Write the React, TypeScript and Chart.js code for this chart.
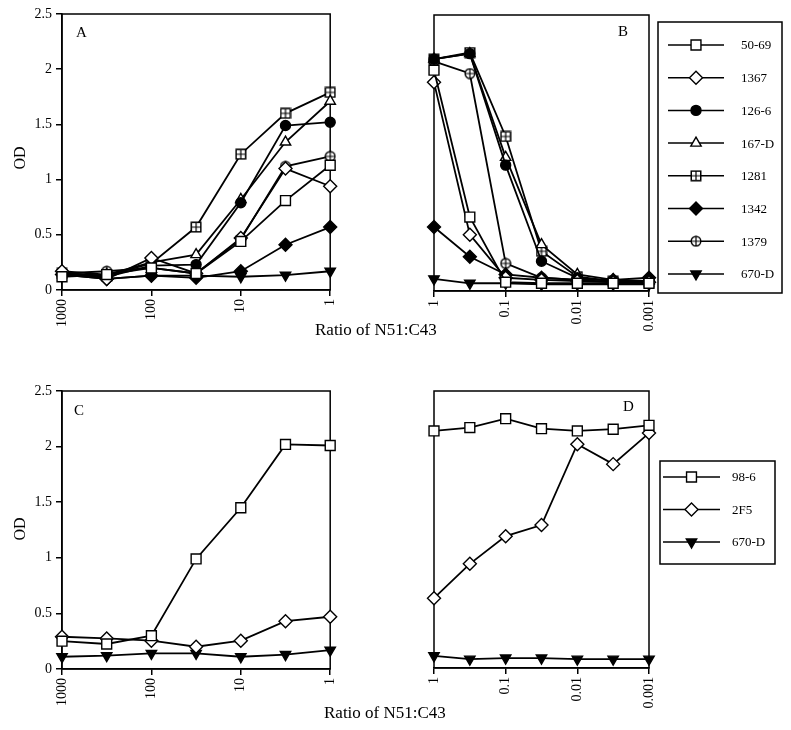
import React, { useEffect, useRef } from 'react';
import { Chart, registerables } from 'chart.js';
import { drawPoint } from 'chart.js/helpers';

Chart.register(...registerables);

const SERIF = "'Liberation Serif', 'Times New Roman', serif";

// ---------- DATA ----------
const ticksAC = ['1000', '100', '10', '1'];
const ticksBD = ['1', '0.1', '0.01', '0.001'];

const namesAB = ['50-69', '1367', '126-6', '167-D', '1281', '1342', '1379', '670-D'];
const namesCD = ['98-6', '2F5', '670-D'];

// Panel A (ratio 1000 -> 1, 7 dilutions)
const a5069 = [0.12, 0.14, 0.2, 0.15, 0.44, 0.81, 1.13];
const a1367 = [0.17, 0.1, 0.29, 0.15, 0.47, 1.1, 0.94];
const a1266 = [0.15, 0.12, 0.22, 0.23, 0.79, 1.49, 1.52];
const a167D = [0.17, 0.14, 0.25, 0.32, 0.82, 1.34, 1.71];
const a1281 = [0.15, 0.13, 0.24, 0.57, 1.23, 1.6, 1.79];
const a1342 = [0.14, 0.1, 0.13, 0.11, 0.17, 0.41, 0.57];
const a1379 = [0.15, 0.17, 0.2, 0.15, 0.46, 1.12, 1.21];
const a670D = [0.14, 0.1, 0.13, 0.13, 0.12, 0.135, 0.17];

// Panel B (ratio 1 -> 0.001)
const b5069 = [2.0, 0.67, 0.08, 0.07, 0.07, 0.07, 0.07];
const b1367 = [1.89, 0.51, 0.12, 0.1, 0.09, 0.08, 0.08];
const b1266 = [2.1, 2.15, 1.14, 0.27, 0.12, 0.09, 0.09];
const b167D = [2.1, 2.15, 1.21, 0.42, 0.15, 0.1, 0.09];
const b1281 = [2.1, 2.16, 1.4, 0.36, 0.13, 0.09, 0.08];
const b1342 = [0.58, 0.31, 0.15, 0.12, 0.1, 0.1, 0.12];
const b1379 = [2.08, 1.97, 0.25, 0.12, 0.1, 0.08, 0.08];
const b670D = [0.11, 0.07, 0.07, 0.06, 0.06, 0.06, 0.06];

// Panel C
const c986 = [0.25, 0.225, 0.3, 0.99, 1.45, 2.02, 2.01];
const c2F5 = [0.29, 0.275, 0.255, 0.2, 0.255, 0.43, 0.47];
const c670D = [0.11, 0.12, 0.14, 0.14, 0.11, 0.13, 0.17];

// Panel D
const d986 = [2.14, 2.17, 2.25, 2.16, 2.14, 2.155, 2.19];
const d2F5 = [0.63, 0.94, 1.19, 1.29, 2.02, 1.84, 2.12];
const d670D = [0.11, 0.08, 0.09, 0.09, 0.08, 0.08, 0.08];

// ---------- MARKER STYLES ----------
function makeBoxPlus(): HTMLCanvasElement {
  const c = document.createElement('canvas');
  c.width = 12; c.height = 12;
  const g = c.getContext('2d')!;
  g.fillStyle = '#fff'; g.fillRect(1, 1, 10, 10);
  g.strokeStyle = '#000'; g.lineWidth = 1.5;
  g.strokeRect(1.25, 1.25, 9.5, 9.5);
  g.lineWidth = 1.2;
  g.beginPath();
  g.moveTo(6, 1.5); g.lineTo(6, 10.5);
  g.moveTo(1.5, 6); g.lineTo(10.5, 6);
  g.stroke();
  return c;
}
function makeCrossCircle(): HTMLCanvasElement {
  const c = document.createElement('canvas');
  c.width = 12; c.height = 12;
  const g = c.getContext('2d')!;
  g.beginPath(); g.arc(6, 6, 4.8, 0, Math.PI * 2);
  g.fillStyle = '#fff'; g.fill();
  g.strokeStyle = '#000'; g.lineWidth = 1.4; g.stroke();
  g.lineWidth = 1.2;
  g.beginPath();
  g.moveTo(6, 1.2); g.lineTo(6, 10.8);
  g.moveTo(1.2, 6); g.lineTo(10.8, 6);
  g.stroke();
  return c;
}
const boxPlus = makeBoxPlus();
const crossCircle = makeCrossCircle();

type Sty = { pointStyle: any; fill: string; radius: number; rotation?: number };
const styles: Record<string, Sty> = {
  '50-69': { pointStyle: 'rect', fill: '#fff', radius: 7 },
  '1367': { pointStyle: 'rectRot', fill: '#fff', radius: 6.5 },
  '126-6': { pointStyle: 'circle', fill: '#000', radius: 5 },
  '167-D': { pointStyle: 'triangle', fill: '#fff', radius: 6 },
  '1281': { pointStyle: boxPlus, fill: '#fff', radius: 6 },
  '1342': { pointStyle: 'rectRot', fill: '#000', radius: 6.5 },
  '1379': { pointStyle: crossCircle, fill: '#fff', radius: 6 },
  '670-D': { pointStyle: 'triangle', fill: '#000', radius: 6, rotation: 180 },
  '98-6': { pointStyle: 'rect', fill: '#fff', radius: 7 },
  '2F5': { pointStyle: 'rectRot', fill: '#fff', radius: 6.5 },
};

// ---------- PANELS ----------
type LegendSpec = { x1: number; y1: number; x2: number; y2: number; rowY0: number; rowStep: number; lineX1: number; lineX2: number; textX: number };
type PanelSpec = {
  left: number; top: number; w: number; h: number;
  padding: { left: number; right: number; top: number; bottom: number };
  xAxisH: number; showY: boolean;
  tickLabels: string[];
  names: string[]; values: number[][];
  legend?: LegendSpec;
};

const panels: PanelSpec[] = [
  {
    left: 0, top: 0, w: 350, h: 340,
    padding: { left: 0, right: 10, top: 14, bottom: 0 }, xAxisH: 50, showY: true,
    tickLabels: ticksAC, names: namesAB,
    values: [a5069, a1367, a1266, a167D, a1281, a1342, a1379, a670D],
  },
  {
    left: 350, top: 0, w: 441, h: 340,
    padding: { left: 22, right: 142, top: 15, bottom: 0 }, xAxisH: 49, showY: false,
    tickLabels: ticksBD, names: namesAB,
    values: [b5069, b1367, b1266, b167D, b1281, b1342, b1379, b670D],
    legend: { x1: 658, y1: 22, x2: 782, y2: 293, rowY0: 45, rowStep: 32.7, lineX1: 668, lineX2: 724, textX: 741 },
  },
  {
    left: 0, top: 340, w: 350, h: 390,
    padding: { left: 0, right: 10, top: 51, bottom: 0 }, xAxisH: 61, showY: true,
    tickLabels: ticksAC, names: namesCD,
    values: [c986, c2F5, c670D],
  },
  {
    left: 350, top: 340, w: 441, h: 390,
    padding: { left: 22, right: 142, top: 51, bottom: 0 }, xAxisH: 62, showY: false,
    tickLabels: ticksBD, names: namesCD,
    values: [d986, d2F5, d670D],
    legend: { x1: 660, y1: 461, x2: 775, y2: 564, rowY0: 477, rowStep: 32.5, lineX1: 663, lineX2: 720, textX: 732 },
  },
];

function buildConfig(p: PanelSpec): any {
  const framePlugin = {
    id: 'frame',
    beforeDatasetsDraw(chart: any) {
      const { ctx, chartArea } = chart;
      ctx.save();
      ctx.strokeStyle = '#000';
      ctx.lineWidth = 1.5;
      ctx.strokeRect(chartArea.left, chartArea.top, chartArea.right - chartArea.left, chartArea.bottom - chartArea.top);
      ctx.restore();
    },
  };
  const legendPlugin = {
    id: 'customLegend',
    afterDraw(chart: any) {
      const L = p.legend;
      if (!L) return;
      const ctx = chart.ctx;
      const ox = p.left, oy = p.top;
      ctx.save();
      ctx.strokeStyle = '#000';
      ctx.lineWidth = 1.5;
      ctx.strokeRect(L.x1 - ox, L.y1 - oy, L.x2 - L.x1, L.y2 - L.y1);
      ctx.font = `13px ${SERIF}`;
      ctx.textBaseline = 'middle';
      ctx.textAlign = 'left';
      p.names.forEach((name, i) => {
        const y = L.rowY0 + i * L.rowStep - oy;
        const st = styles[name];
        ctx.strokeStyle = '#000';
        ctx.lineWidth = 1.5;
        ctx.beginPath();
        ctx.moveTo(L.lineX1 - ox, y);
        ctx.lineTo(L.lineX2 - ox, y);
        ctx.stroke();
        ctx.fillStyle = st.fill;
        ctx.strokeStyle = '#000';
        ctx.lineWidth = 1.4;
        drawPoint(ctx, { pointStyle: st.pointStyle, radius: st.radius, rotation: st.rotation || 0, borderWidth: 1.4 } as any, (L.lineX1 + L.lineX2) / 2 - ox, y);
        ctx.fillStyle = '#000';
        ctx.fillText(name, L.textX - ox, y + 1);
      });
      ctx.restore();
    },
  };

  return {
    type: 'line',
    data: {
      datasets: p.names.map((name, k) => {
        const st = styles[name];
        return {
          label: name,
          data: p.values[k].map((y, i) => ({ x: i, y })),
          borderColor: '#000',
          borderWidth: 1.8,
          pointStyle: st.pointStyle,
          pointRadius: st.radius,
          pointRotation: st.rotation || 0,
          pointBackgroundColor: st.fill,
          pointBorderColor: '#000',
          pointBorderWidth: 1.4,
          clip: false,
          tension: 0,
          fill: false,
        };
      }),
    },
    options: {
      animation: false,
      responsive: false,
      maintainAspectRatio: false,
      layout: { padding: p.padding },
      events: [],
      plugins: { legend: { display: false }, tooltip: { enabled: false }, title: { display: false } },
      scales: {
        x: {
          type: 'linear',
          min: 0,
          max: 6,
          afterBuildTicks: (s: any) => { s.ticks = [0, 2, 4, 6].map((v) => ({ value: v })); },
          afterFit: (s: any) => { s.height = p.xAxisH; },
          ticks: {
            callback: (v: any) => p.tickLabels[Math.round(v / 2)],
            minRotation: 90,
            maxRotation: 90,
            autoSkip: false,
            color: '#000',
            font: { family: SERIF, size: 14 },
            padding: 3,
          },
          grid: { display: true, drawOnChartArea: false, drawTicks: true, tickLength: 6, color: '#000', lineWidth: 1.5 },
          border: { display: true, color: '#000', width: 1.5 },
        },
        y: {
          type: 'linear',
          min: 0,
          max: 2.5,
          display: p.showY,
          afterFit: (s: any) => { s.width = 62; },
          ticks: {
            stepSize: 0.5,
            callback: (v: any) => String(Math.round(v * 10) / 10),
            color: '#000',
            font: { family: SERIF, size: 14 },
            padding: 4,
          },
          grid: { display: true, drawOnChartArea: false, drawTicks: true, tickLength: 6, color: '#000', lineWidth: 1.5 },
          border: { display: true, color: '#000', width: 1.5 },
        },
      },
    },
    plugins: [framePlugin, legendPlugin],
  };
}

function Panel({ spec }: { spec: PanelSpec }) {
  const ref = useRef<HTMLCanvasElement>(null);
  useEffect(() => {
    const chart = new Chart(ref.current!, buildConfig(spec));
    return () => chart.destroy();
  }, []);
  return (
    <canvas
      ref={ref}
      width={spec.w}
      height={spec.h}
      style={{ position: 'absolute', left: spec.left, top: spec.top, width: spec.w, height: spec.h }}
    />
  );
}

const textBase: React.CSSProperties = {
  position: 'absolute',
  fontFamily: SERIF,
  color: '#000',
  lineHeight: 1,
  whiteSpace: 'nowrap',
};

export default function App() {
  return (
    <div style={{ position: 'absolute', left: 0, top: 0, width: 791, height: 730, background: '#fff', overflow: 'hidden' }}>
      {panels.map((p, i) => (
        <Panel key={i} spec={p} />
      ))}
      <div style={{ ...textBase, left: 76, top: 25, fontSize: 15 }}>A</div>
      <div style={{ ...textBase, left: 618, top: 24, fontSize: 15 }}>B</div>
      <div style={{ ...textBase, left: 74, top: 403, fontSize: 15 }}>C</div>
      <div style={{ ...textBase, left: 623, top: 399, fontSize: 15 }}>D</div>
      <div style={{ ...textBase, left: 20, top: 158, fontSize: 16, transform: 'translate(-50%, -50%) rotate(-90deg)' }}>OD</div>
      <div style={{ ...textBase, left: 20, top: 529, fontSize: 16, transform: 'translate(-50%, -50%) rotate(-90deg)' }}>OD</div>
      <div style={{ ...textBase, left: 315, top: 321, fontSize: 17 }}>Ratio of N51:C43</div>
      <div style={{ ...textBase, left: 324, top: 704, fontSize: 17 }}>Ratio of N51:C43</div>
    </div>
  );
}
